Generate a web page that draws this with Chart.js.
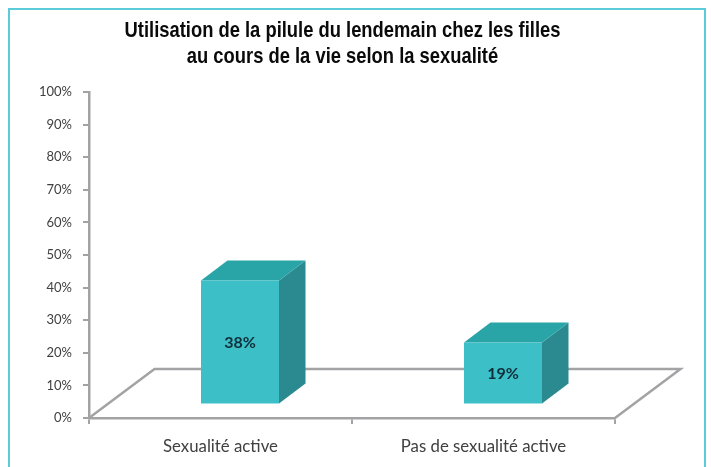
<!DOCTYPE html>
<html><head><meta charset="utf-8">
<style>html,body{margin:0;padding:0;background:#fff}#w{width:711px;height:467px;position:relative}</style>
<script src="https://cdn.jsdelivr.net/npm/chart.js@4"></script>
</head><body><div id="w"><canvas id="c" width="711" height="467"></canvas></div>
<script>
const categories = ['Sexualité active', 'Pas de sexualité active'];
const values = [38, 19];
const titleLines = ['Utilisation de la pilule du lendemain chez les filles', 'au cours de la vie selon la sexualité'];

const AXIS = '#a3a3a5', TEXT = '#404040';
const FRONT = '#3cbfc7', TOP = '#29a5a8', SIDE = '#2b8a8f', FRAME = '#5ccbd9';
const barShift = { x: 19.5, y: -13.6 }, barDepth = { x: 26.5, y: -20 }, floorDepth = { x: 65.5, y: -49 };

function poly(ctx, pts, fill) {
  ctx.beginPath();
  pts.forEach((p, i) => i ? ctx.lineTo(p[0], p[1]) : ctx.moveTo(p[0], p[1]));
  ctx.closePath(); ctx.fillStyle = fill; ctx.fill();
}
const scene = {
  id: 'scene',
  beforeDraw(chart) {
    const c = chart.ctx;
    c.save(); c.strokeStyle = FRAME; c.lineWidth = 2;
    c.strokeRect(9, 9, 696, 480); c.restore();
    c.save();
    c.fillStyle = '#0a0a0a'; c.font = 'bold 22px "Liberation Sans"';
    c.textAlign = 'center'; c.textBaseline = 'middle';
    c.translate(342.5, 0); c.scale(0.835, 1);
    titleLines.forEach((t, i) => c.fillText(t, 0, 31 + i * 26));
    c.restore();
  },
  beforeDatasetsDraw(chart) {
    const c = chart.ctx, a = chart.chartArea;
    c.save(); c.strokeStyle = AXIS; c.lineWidth = 2.5;
    c.beginPath();
    c.moveTo(a.left, a.bottom);
    c.lineTo(a.left + floorDepth.x, a.bottom + floorDepth.y);
    c.lineTo(a.right + floorDepth.x, a.bottom + floorDepth.y);
    c.lineTo(a.right, a.bottom);
    c.stroke(); c.restore();
  },
  beforeDatasetDraw(chart) {
    const c = chart.ctx, d = barDepth;
    chart.getDatasetMeta(0).data.forEach(b => {
      const l = b.x + barShift.x - b.width / 2, r = l + b.width;
      const t = b.y + barShift.y, m = b.base + barShift.y;
      poly(c, [[r, t], [r + d.x, t + d.y], [r + d.x, m + d.y], [r, m]], SIDE);
      poly(c, [[l, t], [l + d.x, t + d.y], [r + d.x, t + d.y], [r, t]], TOP);
    });
    c.save(); c.translate(barShift.x, barShift.y);
  },
  afterDatasetDraw(chart) {
    const c = chart.ctx;
    c.restore();
    c.save();
    c.font = 'bold 16px Lato'; c.fillStyle = '#0e2f3a';
    c.textAlign = 'center'; c.textBaseline = 'middle';
    chart.getDatasetMeta(0).data.forEach((b, i) => {
      c.fillText(values[i] + '%', b.x + barShift.x, (b.y + b.base) / 2 + barShift.y + 1);
    });
    c.restore();
  }
};
new Chart(document.getElementById('c'), {
  type: 'bar',
  data: { labels: categories, datasets: [{ data: values, backgroundColor: FRONT, borderWidth: 0, barPercentage: 0.2966, categoryPercentage: 1 }] },
  options: {
    responsive: false, animation: false, devicePixelRatio: 1,
    layout: { autoPadding: false, padding: { left: 0, right: 96, top: 92, bottom: 0 } },
    plugins: { legend: { display: false }, tooltip: { enabled: false }, title: { display: false } },
    scales: {
      y: { min: 0, max: 100,
        afterFit(s) { s.width = 89; },
        ticks: { stepSize: 10, color: TEXT, padding: 11, font: { family: 'Lato', size: 13 }, callback: v => v + '%' },
        grid: { drawOnChartArea: false, drawTicks: true, tickLength: 6, tickColor: AXIS, lineWidth: 2 },
        border: { color: AXIS, width: 2.5 } },
      x: { afterFit(s) { s.height = 49; },
        ticks: { color: TEXT, padding: 13, maxRotation: 0, font: { family: 'Lato', size: 16.8 } },
        grid: { drawOnChartArea: false, drawTicks: true, tickLength: 6, tickColor: AXIS, lineWidth: 2 },
        border: { color: AXIS, width: 2.5 } }
    }
  },
  plugins: [scene]
});
</script></body></html>
